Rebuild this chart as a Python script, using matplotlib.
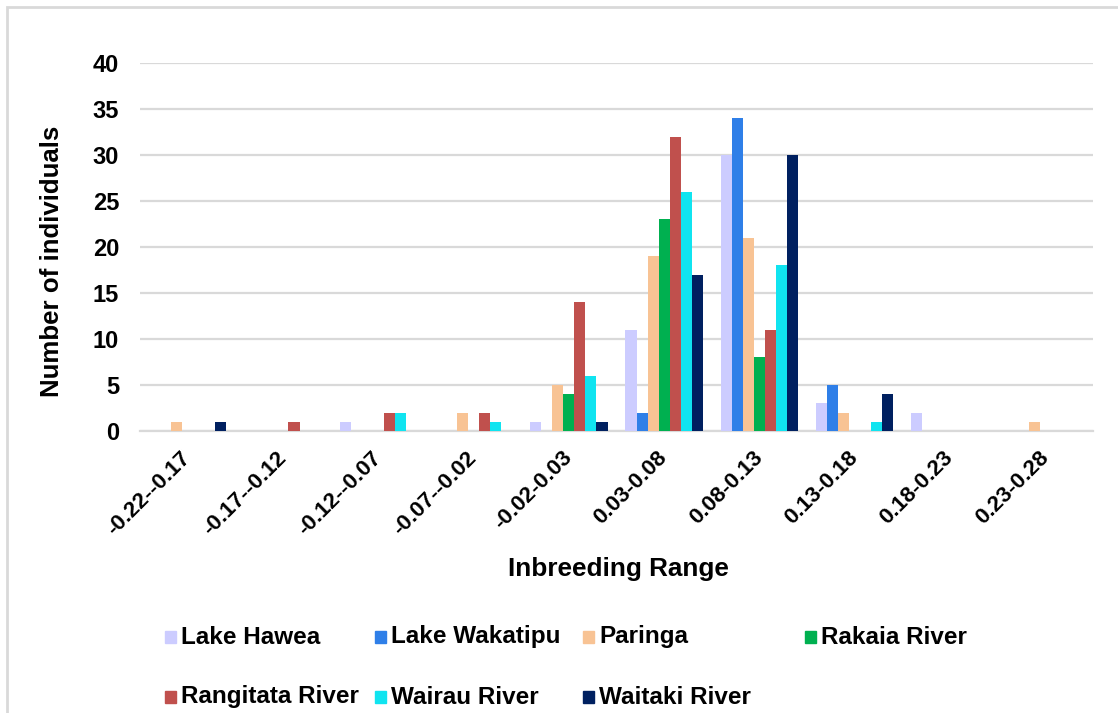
import numpy as np
import matplotlib.pyplot as plt
from matplotlib.patches import Rectangle

plt.rcParams["font.family"] = ["Liberation Sans", "DejaVu Sans"]
plt.rcParams["font.weight"] = "bold"

# Inbreeding coefficient bins
ranges = ["-0.22--0.17", "-0.17--0.12", "-0.12--0.07", "-0.07--0.02", "-0.02-0.03",
          "0.03-0.08", "0.08-0.13", "0.13-0.18", "0.18-0.23", "0.23-0.28"]

# Number of individuals per bin, one list per population
lake_hawea     = [0, 0, 1, 0, 1, 11, 30, 3, 2, 0]
lake_wakatipu  = [0, 0, 0, 0, 0, 2, 34, 5, 0, 0]
paringa        = [1, 0, 0, 2, 5, 19, 21, 2, 0, 1]
rakaia         = [0, 0, 0, 0, 4, 23, 8, 0, 0, 0]
rangitata      = [0, 1, 2, 2, 14, 32, 11, 0, 0, 0]
wairau         = [0, 0, 2, 1, 6, 26, 18, 1, 0, 0]
waitaki        = [1, 0, 0, 0, 1, 17, 30, 4, 0, 0]

series = [
    ("Lake Hawea", lake_hawea, "#CCCCFF"),
    ("Lake Wakatipu", lake_wakatipu, "#2F7FE8"),
    ("Paringa", paringa, "#F8C394"),
    ("Rakaia River", rakaia, "#00B050"),
    ("Rangitata River", rangitata, "#C0504D"),
    ("Wairau River", wairau, "#10E4F0"),
    ("Waitaki River", waitaki, "#002060"),
]

W, H = 1118, 713
fig = plt.figure(figsize=(W / 100, H / 100), dpi=100)
ax = fig.add_axes([140 / W, 1 - 431 / H, (1093 - 140) / W, (431 - 63) / H])

x = np.arange(len(ranges))
bw = 0.116
for i, (name, vals, col) in enumerate(series):
    ax.bar(x + (i - 3) * bw, vals, width=bw, color=col, label=name, zorder=3)

ax.set_xlim(-0.5, len(ranges) - 0.5)
ax.set_ylim(0, 40)
ax.set_yticks(np.arange(0, 41, 5))
ax.yaxis.grid(True, color="#D9D9D9", lw=1.6, zorder=0)
ax.set_axisbelow(True)
for s in ["top", "right", "left"]:
    ax.spines[s].set_visible(False)
ax.spines["bottom"].set_color("#D9D9D9")
ax.spines["bottom"].set_linewidth(1.6)
ax.tick_params(axis="y", length=0, pad=15, labelsize=17)
ax.tick_params(axis="x", length=0, pad=17, labelsize=16)
ax.set_xticks(x)
ax.set_xticklabels(ranges, rotation=45, ha="right", va="center", rotation_mode="anchor")

fig.text(618 / W, 1 - 569 / H, "Inbreeding Range", ha="center", va="center",
         fontsize=18.8, fontweight="bold")
fig.text(52 / W, 1 - 261 / H, "Number of individuals", ha="center", va="center",
         rotation=90, fontsize=18.6, fontweight="bold")

# legend laid out in fixed-width columns
col_x = [165, 375, 583, 805]
row_y = [637, 697]
for i, (name, vals, col) in enumerate(series):
    r, c = divmod(i, 4)
    lx, ly = col_x[c], row_y[r]
    fig.patches.append(Rectangle((lx / W, 1 - (ly + 6) / H), 11 / W, 12 / H,
                                 transform=fig.transFigure, color=col))
    fig.text((lx + 16) / W, 1 - ly / H, name, ha="left", va="center",
             fontsize=17.5, fontweight="bold")

# chart frame
fig.patches.append(Rectangle((7 / W, -0.05), 1.1, 1 - 7 / H + 0.05,
                             transform=fig.transFigure, fill=False,
                             edgecolor="#D9D9D9", lw=2))

fig.savefig("out.png", dpi=100)
